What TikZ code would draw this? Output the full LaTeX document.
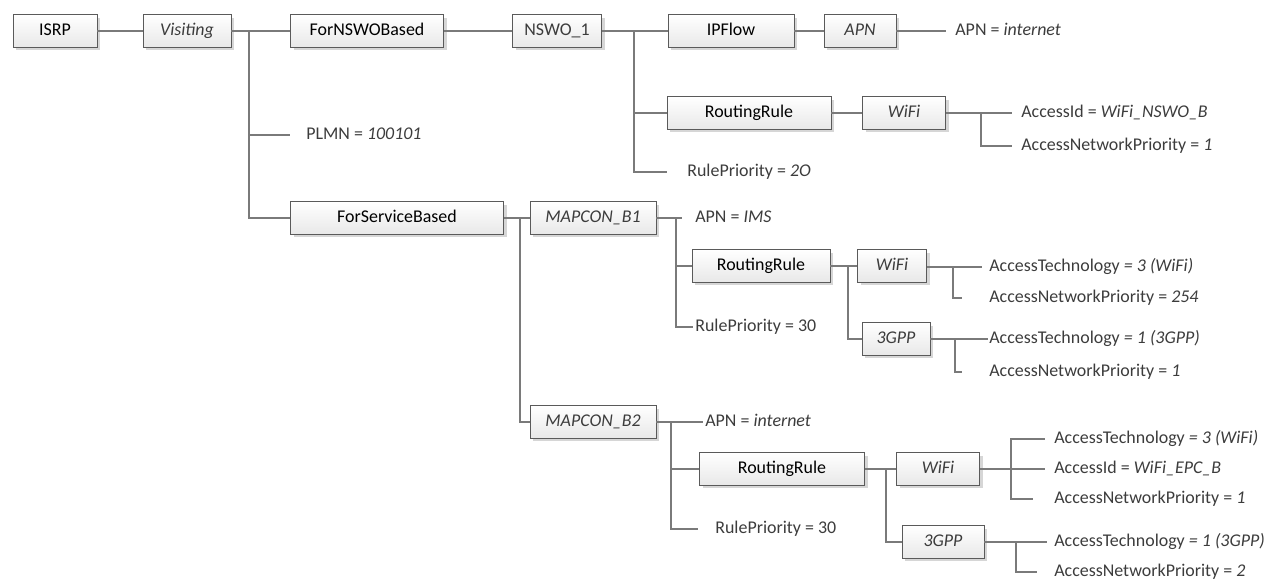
\documentclass[tikz,border=0pt]{standalone}
\usepackage{fontspec}
\setmainfont{Carlito}
\usetikzlibrary{shadows}
\definecolor{linegray}{HTML}{7A7A7A}
\definecolor{boxline}{HTML}{5A5A5A}
\definecolor{leaftext}{HTML}{3C3C3C}

\begin{document}
\begin{tikzpicture}[x=0.02cm, y=-0.02cm,
  font=\fontsize{10.2}{12}\selectfont,
  every node/.style={text height=1.45ex, text depth=.35ex},
  box/.style={draw=boxline, top color=white, bottom color=black!9,
    minimum width=#1*0.02cm, minimum height=0.65cm, inner sep=0,
    drop shadow={shadow xshift=0.06cm, shadow yshift=-0.06cm, fill=black!16, opacity=1}},
  ibox/.style={box=#1, text=leaftext, font=\fontsize{10.2}{12}\selectfont\itshape},
  leaf/.style={anchor=west, inner sep=0, text=leaftext},
  gap/.style={shorten >=#1*0.02cm},
  link/.style={draw=linegray, line width=0.6pt}]
\useasboundingbox (0,0) rectangle (1272,581);

% boxes
\node[box=84] (isrp) at (55,31) {ISRP};
\node[ibox=88] (visiting) at (187,31) {Visiting};
\node[box=153] (fornswo) at (367,31) {ForNSWOBased};
\node[box=89, text=leaftext] (nswo) at (557,31) {NSWO\_1};
\node[box=126] (ipflow) at (731,31) {IPFlow};
\node[ibox=72] (apn) at (860,31) {APN};
\node[box=164] (rr1) at (749,113) {RoutingRule};
\node[ibox=83] (wifi1) at (904,113) {WiFi};
\node[box=213] (forsvc) at (397,218) {ForServiceBased};
\node[ibox=126] (mapcon1) at (593,218) {MAPCON\_B1};
\node[box=138] (rr2) at (761,266) {RoutingRule};
\node[ibox=69] (wifi2) at (892,266) {WiFi};
\node[ibox=68] (gpp2) at (896,339) {3GPP};
\node[ibox=126] (mapcon2) at (593,422) {MAPCON\_B2};
\node[box=165] (rr3) at (782,469) {RoutingRule};
\node[ibox=83] (wifi3) at (938,469) {WiFi};
\node[ibox=82] (gpp3) at (943,542) {3GPP};

% values
\node[leaf] (plmn) at (306,135) {PLMN = \textit{100101}};
\node[leaf] (apnv1) at (955,31) {APN = \textit{internet}};
\node[leaf] (rp1) at (687,172) {RulePriority = \textit{2O}};
\node[leaf] (acc1) at (1021,113) {AccessId = \textit{WiFi\_NSWO\_B}};
\node[leaf] (anp1) at (1021,146) {AccessNetworkPriority = \textit{1}};
\node[leaf] (apn2) at (695,218) {APN = \textit{IMS}};
\node[leaf] (rp2) at (695,327) {RulePriority = 30};
\node[leaf] (at2) at (989,267) {AccessTechnology \textit{= 3 (WiFi)}};
\node[leaf] (anp2) at (989,298) {AccessNetworkPriority = \textit{254}};
\node[leaf] (at3) at (989,339) {AccessTechnology \textit{= 1 (3GPP)}};
\node[leaf] (anp3) at (989,372) {AccessNetworkPriority = \textit{1}};
\node[leaf] (apn3) at (705,422) {APN = \textit{internet}};
\node[leaf] (rp3) at (715,529) {RulePriority = 30};
\node[leaf] (at4) at (1054,439) {AccessTechnology \textit{= 3 (WiFi)}};
\node[leaf] (acc2) at (1054,469) {AccessId = \textit{WiFi\_EPC\_B}};
\node[leaf] (anp4) at (1054,499) {AccessNetworkPriority = \textit{1}};
\node[leaf] (at5) at (1054,542) {AccessTechnology \textit{= 1 (3GPP)}};
\node[leaf] (anp5) at (1054,572) {AccessNetworkPriority = \textit{2}};

% trunks
\coordinate (vt) at (249,31);
\coordinate (nt) at (634,31);
\coordinate (w1t) at (981,113);
\coordinate (st) at (520,218);
\coordinate (m1t) at (676,218);
\coordinate (r2t) at (848,266);
\coordinate (w2t) at (953,267);
\coordinate (g2t) at (955,339);
\coordinate (m2t) at (671,422);
\coordinate (r3t) at (886,469);
\coordinate (w3t) at (1011,469);
\coordinate (g3t) at (1016,542);

\begin{scope}[link]
\draw (isrp) -- (visiting);
\draw (visiting) -- (fornswo);
\draw[gap=16] (vt) |- (plmn);
\draw (vt) |- (forsvc);
\draw (fornswo) -- (nswo);
\draw (nswo) -- (ipflow);
\draw (nt) |- (rr1);
\draw[gap=20] (nt) |- (rp1);
\draw (ipflow) -- (apn);
\draw[gap=9] (apn) -- (apnv1);
\draw (rr1) -- (wifi1);
\draw[gap=9] (wifi1) -- (acc1);
\draw[gap=9] (w1t) |- (anp1);
% service based
\draw (forsvc) -- (mapcon1);
\draw (st) |- (mapcon2);
\draw[gap=13] (mapcon1) -- (apn2);
\draw (m1t) |- (rr2);
\draw[gap=2] (m1t) |- (rp2);
\draw (rr2) -- (wifi2);
\draw (r2t) |- (gpp2);
\draw[gap=7] (wifi2.east |- w2t) -- (at2);
\draw[gap=27] (w2t) |- (anp2);
\draw[gap=1] (gpp2) -- (at3);
\draw[gap=27] (g2t) |- (anp3);
\draw[gap=2] (mapcon2) -- (apn3);
\draw (m2t) |- (rr3);
\draw[gap=17] (m2t) |- (rp3);
\draw (rr3) -- (wifi3);
\draw (r3t) |- (gpp3);
\draw[gap=9] (wifi3) -- (acc2);
\draw[gap=9] (w3t) |- (at4);
\draw[gap=21] (w3t) |- (anp4);
\draw[gap=7] (gpp3) -- (at5);
\draw[gap=17] (g3t) |- (anp5);
\end{scope}
\end{tikzpicture}
\end{document}
